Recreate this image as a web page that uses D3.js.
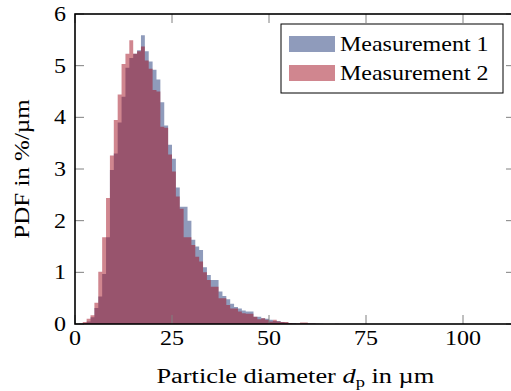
<!DOCTYPE html>
<html>
<head>
<meta charset="utf-8">
<script src="https://cdn.jsdelivr.net/npm/d3@7"></script>
<style>
  body { margin: 0; background: #fff; }
  svg { display: block; font-family: "Liberation Serif", "DejaVu Serif", serif; }
</style>
</head>
<body>
<div id="chart"></div>
<script>
// bins are 1 µm wide, value i covers [i, i+1)
const binStart = 0;
const measurement1 = [0, 0, 0.02, 0.05, 0.13, 0.31, 0.53, 0.97, 1.68, 2.98,
  3.3, 3.9, 4.4, 4.96, 5.15, 5.23, 5.3, 5.59, 5.28, 5.08,
  4.92, 4.73, 4.29, 3.84, 3.47, 3.2, 2.64, 2.27, 2.27, 2.0,
  1.63, 1.5, 1.43, 1.1, 0.95, 0.85, 0.85, 0.63, 0.54, 0.48,
  0.39, 0.33, 0.3, 0.26, 0.24, 0.24, 0.14, 0.14, 0.11, 0.1,
  0.08, 0.06, 0.06, 0.04, 0.03, 0.02, 0.02, 0.01, 0.01, 0.01,
  0.01, 0.01, 0.005, 0.005, 0, 0, 0, 0.005, 0, 0];
const measurement2 = [0, 0.01, 0.04, 0.1, 0.17, 0.41, 1.01, 1.68, 2.44, 3.26,
  3.95, 4.44, 5.03, 5.23, 5.49, 5.23, 5.28, 5.37, 5.1, 4.94,
  4.53, 4.5, 3.82, 3.8, 3.28, 2.95, 2.47, 2.23, 1.68, 1.68,
  1.53, 1.3, 1.21, 1.0, 0.85, 0.72, 0.72, 0.5, 0.5, 0.37,
  0.3, 0.3, 0.24, 0.21, 0.2, 0.2, 0.14, 0.09, 0.11, 0.08,
  0.05, 0.08, 0.05, 0.04, 0.04, 0.02, 0.01, 0.01, 0.03, 0.03,
  0.01, 0.01, 0.005, 0, 0, 0, 0, 0, 0, 0];
const seriesNames = ["Measurement 1", "Measurement 2"];
const xTicks = [0, 25, 50, 75, 100];
const yTicks = [0, 1, 2, 3, 4, 5, 6];

const W = 511, H = 391;
const margin = { top: 14, right: -4, bottom: 67, left: 75 };
const innerW = W - margin.left - margin.right;
const innerH = H - margin.top - margin.bottom;

const svg = d3.select("#chart").append("svg")
  .attr("width", W).attr("height", H);

const x = d3.scaleLinear().domain([0, 113.4]).range([0, innerW]);
const y = d3.scaleLinear().domain([0, 6]).range([innerH, 0]);

const g = svg.append("g").attr("transform", `translate(${margin.left},${margin.top})`);

g.append("clipPath").attr("id", "clip")
  .append("rect").attr("width", innerW).attr("height", innerH);

const colors = ["rgb(31,55,119)", "rgb(161,13,31)"];
const opacity = 0.5;
const fontSize = 20;
const stretch = 1.2; // Times is narrower than the Computer Modern of the original

// text placed through a transform so it can be widened a little
function label(parent, tx, ty, str, anchor, rot, sx) {
  return parent.append("text")
    .attr("transform", `translate(${tx},${ty})` + (rot ? ` rotate(${rot})` : "") + ` scale(${sx || stretch},1)`)
    .attr("text-anchor", anchor || "start")
    .attr("font-size", fontSize)
    .text(str);
}

// turn bins into step points (last edge repeated so the final bar closes)
function steps(values) {
  const pts = values.map((v, i) => ({ x: binStart + i, v: v }));
  pts.push({ x: binStart + values.length, v: 0 });
  return pts;
}

const area = d3.area()
  .curve(d3.curveStepAfter)
  .x(d => x(d.x))
  .y0(y(0))
  .y1(d => y(d.v));

const plot = g.append("g").attr("clip-path", "url(#clip)");
[measurement1, measurement2].forEach((vals, i) => {
  plot.append("path")
    .datum(steps(vals))
    .attr("d", area)
    .attr("fill", colors[i])
    .attr("fill-opacity", opacity);
});

// ticks inside on all four sides
const tickLen = 9;
const tickCol = "#808080";
xTicks.forEach(t => {
  g.append("line").attr("x1", x(t)).attr("x2", x(t))
    .attr("y1", innerH).attr("y2", innerH - tickLen)
    .attr("stroke", tickCol).attr("stroke-width", 1);
  g.append("line").attr("x1", x(t)).attr("x2", x(t))
    .attr("y1", 0).attr("y2", tickLen)
    .attr("stroke", tickCol).attr("stroke-width", 1);
});
yTicks.forEach(t => {
  g.append("line").attr("x1", 0).attr("x2", tickLen)
    .attr("y1", y(t)).attr("y2", y(t))
    .attr("stroke", tickCol).attr("stroke-width", 1);
  g.append("line").attr("x1", innerW).attr("x2", innerW - tickLen)
    .attr("y1", y(t)).attr("y2", y(t))
    .attr("stroke", tickCol).attr("stroke-width", 1);
});

// frame
g.append("rect").attr("width", innerW).attr("height", innerH)
  .attr("fill", "none").attr("stroke", "#000").attr("stroke-width", 1.6);

xTicks.forEach(t => label(g, x(t), innerH + 21, t, "middle"));
yTicks.forEach(t => label(g, -9, y(t) + 7, t, "end"));

// axis titles
const xl = label(svg, margin.left + x(56.8), 383, "", "middle", 0, 1.32);
xl.append("tspan").text("Particle diameter ");
xl.append("tspan").attr("font-style", "italic").text("d");
xl.append("tspan").attr("font-size", 14).attr("dy", 4).text("p");
xl.append("tspan").attr("dy", -4).text(" in µm");

label(svg, 29, margin.top + innerH / 2, "PDF in %/µm", "middle", -90, 1.25);

// legend
const lg = svg.append("g").attr("transform", "translate(281,24)");
lg.append("rect").attr("width", 222).attr("height", 69)
  .attr("fill", "#fff").attr("stroke", "#000").attr("stroke-width", 1);
seriesNames.forEach((name, i) => {
  lg.append("rect").attr("x", 8).attr("y", 12 + i * 29)
    .attr("width", 46).attr("height", 16)
    .attr("fill", colors[i]).attr("fill-opacity", opacity);
  label(lg, 59, 27 + i * 29, name);
});
</script>
</body>
</html>
